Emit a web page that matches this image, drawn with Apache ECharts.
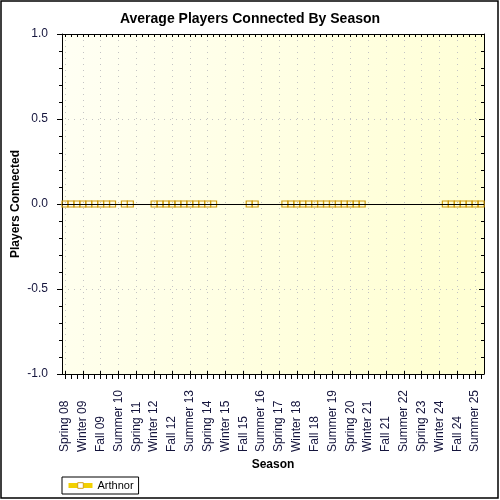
<!DOCTYPE html>
<html>
<head>
<meta charset="utf-8">
<script src="https://cdn.jsdelivr.net/npm/echarts@6/dist/echarts.min.js"></script>
<style>
  html, body { margin: 0; padding: 0; background: #fff; }
  #main { width: 500px; height: 500px; }
</style>
</head>
<body>
<div id="main"></div>
<script>
// seasons on the x axis, Spring 08 .. Fall 25
const seasons = [
  'Spring 08', 'Summer 08', 'Fall 08', 'Winter 09', 'Spring 09', 'Summer 09', 'Fall 09', 'Winter 10',
  'Spring 10', 'Summer 10', 'Fall 10', 'Winter 11', 'Spring 11', 'Summer 11', 'Fall 11', 'Winter 12',
  'Spring 12', 'Summer 12', 'Fall 12', 'Winter 13', 'Spring 13', 'Summer 13', 'Fall 13', 'Winter 14',
  'Spring 14', 'Summer 14', 'Fall 14', 'Winter 15', 'Spring 15', 'Summer 15', 'Fall 15', 'Winter 16',
  'Spring 16', 'Summer 16', 'Fall 16', 'Winter 17', 'Spring 17', 'Summer 17', 'Fall 17', 'Winter 18',
  'Spring 18', 'Summer 18', 'Fall 18', 'Winter 19', 'Spring 19', 'Summer 19', 'Fall 19', 'Winter 20',
  'Spring 20', 'Summer 20', 'Fall 20', 'Winter 21', 'Spring 21', 'Summer 21', 'Fall 21', 'Winter 22',
  'Spring 22', 'Summer 22', 'Fall 22', 'Winter 23', 'Spring 23', 'Summer 23', 'Fall 23', 'Winter 24',
  'Spring 24', 'Summer 24', 'Fall 24', 'Winter 25', 'Spring 25', 'Summer 25', 'Fall 25'
];

// average players connected (null = no record that season)
const arthnor = [
  0, 0, 0, 0, 0, 0, 0, 0, 0, null,
  0, 0, null, null, null,
  0, 0, 0, 0, 0, 0, 0, 0, 0, 0, 0,
  null, null, null, null, null,
  0, 0, null, null, null, null,
  0, 0, 0, 0, 0, 0, 0, 0, 0, 0, 0, 0, 0, 0,
  null, null, null, null, null, null, null, null, null, null, null, null, null,
  0, 0, 0, 0, 0, 0, 0
];

const yTicks = [-1, -0.5, 0, 0.5, 1];

const myChart = echarts.init(document.getElementById('main'));

const font = 'Liberation Sans, Arial, sans-serif';
const labelColor = '#14143c';
const dotted = { color: '#c4c4c4', width: 1, type: [1, 5] };
const blackLine = { show: true, onZero: false, lineStyle: { color: '#000', width: 1 } };

const option = {
  animation: false,
  backgroundColor: '#ffffff',
  title: {
    text: 'Average Players Connected By Season',
    left: 'center',
    top: 7,
    textStyle: { fontFamily: font, fontSize: 14, fontWeight: 'bold', color: '#000' }
  },
  graphic: [{
    type: 'rect',
    shape: { x: 1, y: 1, width: 497, height: 497 },
    style: { fill: 'none', stroke: '#000', lineWidth: 1.5 },
    silent: true
  }],
  legend: {
    left: 62,
    top: 477,
    padding: [3, 5, 3, 4],
    borderColor: '#000',
    borderWidth: 1,
    itemWidth: 24,
    itemHeight: 7,
    itemGap: 6,
    textStyle: { fontFamily: font, fontSize: 11, color: '#000' },
    lineStyle: { color: '#f2d000', width: 5, opacity: 1 },
    itemStyle: { color: '#ffffff', borderColor: '#d4a017', borderWidth: 1 }
  },
  grid: {
    left: 62, right: 16, top: 34, bottom: 126,
    outerBoundsMode: 'none',
    containLabel: false,
    show: true,
    borderWidth: 0,
    backgroundColor: new echarts.graphic.LinearGradient(0, 0, 1, 0.4, [
      { offset: 0, color: '#fffff4' },
      { offset: 1, color: '#ffffd4' }
    ])
  },
  xAxis: [
    {
      type: 'category',
      data: seasons,
      position: 'bottom',
      boundaryGap: true,
      name: 'Season',
      nameLocation: 'middle',
      nameGap: 85,
      nameMoveOverlap: false,
      nameTextStyle: { fontFamily: font, fontSize: 12, fontWeight: 'bold', color: '#000' },
      axisLine: blackLine,
      axisTick: { show: true, interval: 0, alignWithLabel: true, length: 5, lineStyle: { color: '#000' } },
      axisLabel: {
        interval: 2,
        rotate: 90,
        align: 'left',
        verticalAlign: 'middle',
        margin: 78,
        fontFamily: font,
        fontSize: 12,
        color: labelColor
      },
      splitLine: { show: true, interval: 2, alignWithLabel: true, lineStyle: dotted }
    },
    {
      type: 'category',
      data: seasons,
      position: 'top',
      boundaryGap: true,
      axisLine: blackLine,
      axisTick: { show: true, inside: true, interval: 0, alignWithLabel: true, length: 3, lineStyle: { color: '#000' } },
      axisLabel: { show: false },
      splitLine: { show: false }
    },
    {
      type: 'category',
      data: seasons,
      position: 'bottom',
      boundaryGap: true,
      axisLine: { show: false, onZero: false },
      axisTick: { show: true, inside: true, interval: 2, alignWithLabel: true, length: 3, lineStyle: { color: '#000' } },
      axisLabel: { show: false },
      splitLine: { show: false }
    }
  ],
  yAxis: [
    {
      type: 'value',
      min: yTicks[0],
      max: yTicks[yTicks.length - 1],
      interval: 0.5,
      name: 'Players Connected',
      nameLocation: 'middle',
      nameGap: 40,
      nameMoveOverlap: false,
      nameTextStyle: { fontFamily: font, fontSize: 12, fontWeight: 'bold', color: '#000' },
      axisLine: blackLine,
      axisTick: { show: true, length: 5, lineStyle: { color: '#000' } },
      minorTick: { show: true, splitNumber: 5, length: 3, lineStyle: { color: '#000' } },
      axisLabel: {
        margin: 14,
        fontFamily: font,
        fontSize: 12,
        color: labelColor,
        formatter: v => v.toFixed(1)
      },
      splitLine: { show: true, lineStyle: dotted }
    },
    {
      type: 'value',
      min: yTicks[0],
      max: yTicks[yTicks.length - 1],
      interval: 0.5,
      position: 'right',
      axisLine: blackLine,
      axisTick: { show: true, inside: true, length: 5, lineStyle: { color: '#000' } },
      minorTick: { show: true, splitNumber: 5, length: 3, lineStyle: { color: '#000' } },
      axisLabel: { show: false },
      splitLine: { show: false }
    }
  ],
  series: [
    {
      name: 'Arthnor',
      type: 'line',
      data: arthnor,
      xAxisIndex: 0,
      yAxisIndex: 0,
      connectNulls: false,
      symbol: 'rect',
      symbolSize: 6,
      showAllSymbol: true,
      lineStyle: { width: 0, color: '#f2d000' },
      itemStyle: { color: 'rgba(255,255,255,0)', borderColor: '#cf9a0c', borderWidth: 1.2 },
      markLine: {
        silent: true,
        symbol: ['none', 'none'],
        label: { show: false },
        lineStyle: { color: '#000', width: 1, type: 'solid' },
        data: [{ yAxis: 0 }]
      }
    }
  ]
};

myChart.setOption(option);
</script>
</body>
</html>
